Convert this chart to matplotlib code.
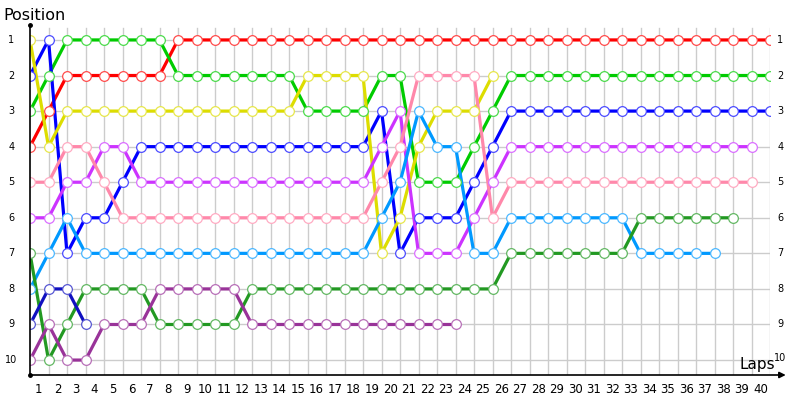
import matplotlib
matplotlib.use("Agg")
import matplotlib.pyplot as plt
from matplotlib.colors import to_rgb

# positions per lap, starting at lap 0 (grid)
red = [4, 3, 2, 2, 2, 2, 2, 2] + [1] * 33
green = [3, 2] + [1] * 6 + [2] * 7 + [3] * 4 + [2, 2] + [5] * 3 + [4, 3] + [2] * 15
yellow = [1, 4] + [3] * 13 + [2] * 4 + [7, 6, 4, 3, 3, 3, 2]
blue = [2, 1, 7, 6, 6, 5] + [4] * 13 + [3, 7, 6, 6, 6, 5, 4] + [3] * 15
violet = [6, 6, 5, 5, 4, 4] + [5] * 13 + [4, 3, 7, 7, 7, 6, 5] + [4] * 14
pink = [5, 5, 4, 4, 5] + [6] * 14 + [5, 4, 2, 2, 2, 2, 6] + [5] * 14
lightblue = [8, 7, 6] + [7] * 16 + [6, 5, 3, 4, 4, 7, 7] + [6] * 7 + [7] * 5
darkgreen = [7, 10, 9] + [8] * 4 + [9] * 5 + [8] * 14 + [7] * 7 + [6] * 6
navy = [9, 8, 8, 9]
purple = [10, 9, 10, 10] + [9] * 3 + [8] * 5 + [9] * 12

series = [
    (red, "#ff0000"),
    (green, "#00cc00"),
    (blue, "#0000ff"),
    (yellow, "#dddd00"),
    (violet, "#cc33ff"),
    (pink, "#ff88aa"),
    (lightblue, "#0099ff"),
    (darkgreen, "#229922"),
    (navy, "#1010c0"),
    (purple, "#993399"),
]

n_laps = 40
n_pos = 10
lap_labels = [str(i) for i in range(1, n_laps + 1)]
pos_labels = [str(i) for i in range(1, n_pos + 1)]


def lighter(c, amt=0.3):
    r, g, b = to_rgb(c)
    return (r + (1 - r) * amt, g + (1 - g) * amt, b + (1 - b) * amt)


fig = plt.figure(figsize=(8, 4), dpi=100)
ax = fig.add_axes([30 / 800, 25 / 400, 740 / 800, 350 / 400])
ax.set_xlim(0, n_laps)
ax.set_ylim(10.42, 0.58)
ax.axis("off")

# grid
for i in range(1, n_laps + 1):
    ax.plot([i, i], [0.66, 10.42], color="#cccccc", lw=1, zorder=0)
for p in range(1, n_pos + 1):
    ax.plot([0, n_laps], [p, p], color="#cccccc", lw=1, zorder=0)

# driver lines
for vals, col in series:
    laps = list(range(len(vals)))
    ax.plot(laps, vals, color=col, lw=2.3, zorder=2, solid_joinstyle="round")
    ax.plot(laps, vals, ls="none", marker="o", ms=7, mfc="white",
            mec=lighter(col), mew=0.9, zorder=3)

# axes lines
ax.plot([0, 0], [0.58, 10.42], color="black", lw=1.2, clip_on=False, zorder=4)
ax.plot([0, 0], [0.58, 10.42], ls="none", marker="o", ms=2.5, color="black",
        clip_on=False, zorder=4)
ax.annotate("", xy=(40.85, 10.42), xytext=(0, 10.42),
            arrowprops=dict(arrowstyle="-|>", color="black", lw=1.2,
                            mutation_scale=9, shrinkA=0, shrinkB=0),
            annotation_clip=False)

# tick labels
for i, lab in enumerate(lap_labels, start=1):
    ax.text(i - 0.52, 10.82, lab, ha="center", va="center", fontsize=8.5,
            clip_on=False)
for p, lab in enumerate(pos_labels, start=1):
    ax.text(-1.0, p, lab, ha="center", va="center", fontsize=7, clip_on=False)
    yy = p - 0.05 if p == 10 else p
    ax.text(40.55, yy, lab, ha="center", va="center", fontsize=7,
            clip_on=False)

fig.text(3 / 800, 1 - 15 / 400, "Position", ha="left", va="center", fontsize=11.5)
fig.text(775 / 800, 1 - 365 / 400, "Laps", ha="right", va="center", fontsize=11)

fig.savefig("out.png", dpi=100)
